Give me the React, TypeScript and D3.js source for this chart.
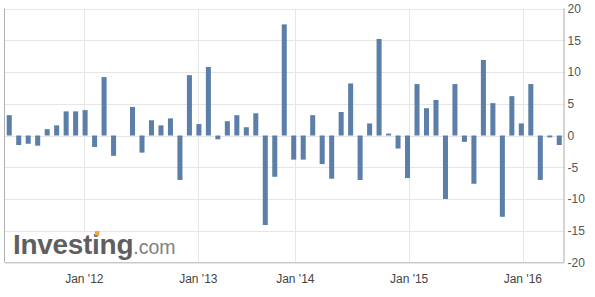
import React from "react";
import * as d3 from "d3";

const values: number[] = [
  3.2, -1.5, -1.3, -1.6, 1.0, 1.6, 3.8, 3.8, 4.0, -1.8,
  9.2, -3.2, 0.0, 4.5, -2.7, 2.4, 1.6, 2.7, -7.0, 9.5,
  1.8, 10.8, -0.6, 2.25, 3.2, 1.3, 3.5, -14.1, -6.5, 17.5,
  -3.8, -3.8, 3.2, -4.5, -6.8, 3.7, 8.2, -7.0, 1.9, 15.2,
  0.3, -2.05, -6.7, 8.1, 4.3, 5.6, -10.0, 8.1, -1.0, -7.6,
  11.9, 5.1, -12.8, 6.2, 1.9, 8.1, -7.0, -0.3, -1.5,
];

const xTickLabels: string[] = ["Jan '12", "Jan '13", "Jan '14", "Jan '15", "Jan '16"];
const xTickIndex: number[] = [7.92, 19.94, 30.17, 42.17, 54.16];
const yTicks: number[] = [20, 15, 10, 5, 0, -5, -10, -15, -20];

const W = 595;
const H = 297;
const left = 4.5;
const right = 564;
const top = 8.5;
const bottom = 262.5;

export default function App() {
  const x = d3
    .scaleBand<number>()
    .domain(values.map((_, i) => i))
    .range([left, right])
    .paddingInner(0.47)
    .paddingOuter(0.235);
  const step = x.step();
  const center = (i: number) => left + step * (i + 0.5);
  const y = d3.scaleLinear().domain([-20, 20]).range([bottom, top]);
  const font = "'Liberation Sans', Arial, sans-serif";

  return (
    <svg
      width={W}
      height={H}
      style={{ position: "absolute", left: 0, top: 0, background: "#fff" }}
    >
      {/* horizontal gridlines */}
      {yTicks.map((t) => (
        <line
          key={"hg" + t}
          x1={left}
          x2={right}
          y1={Math.round(y(t)) + 0.5}
          y2={Math.round(y(t)) + 0.5}
          stroke="#e6e6e6"
          strokeWidth={1}
        />
      ))}
      {/* vertical gridlines */}
      {xTickIndex.map((t, i) => (
        <line
          key={"vg" + i}
          x1={Math.round(center(t)) + 0.5}
          x2={Math.round(center(t)) + 0.5}
          y1={top}
          y2={bottom}
          stroke="#e6e6e6"
          strokeWidth={1}
        />
      ))}
      {/* bars */}
      {values.map((v, i) => (
        <rect
          key={"b" + i}
          x={x(i)}
          width={x.bandwidth()}
          y={y(Math.max(0, v))}
          height={Math.abs(y(v) - y(0))}
          fill="#5b7fa9"
        />
      ))}
      {/* watermark */}
      <rect x={left + 1} y={232} width={185} height={bottom - 232 - 0.5} fill="#fff" />
      <text
        x={13}
        y={253.5}
        fontFamily={font}
        fontWeight="bold"
        fontSize={28}
        letterSpacing={-0.3}
        fill="#5f5f5f"
      >
        Investing
        <tspan fontWeight="normal" fontSize={19.5} fill="#808080" letterSpacing={0}>
          .com
        </tspan>
      </text>
      <rect x={95} y={231} width={4.5} height={4.5} fill="#f2a83a" />
      {/* axes lines */}
      <line x1={left} x2={left} y1={top} y2={bottom} stroke="#b0b0b0" />
      <line x1={right} x2={right} y1={top} y2={bottom} stroke="#a8a8a8" />
      <line x1={left} x2={right} y1={bottom} y2={bottom} stroke="#c8c8c8" />
      {/* y labels */}
      {yTicks.map((t) => (
        <text
          key={"yl" + t}
          x={567.5}
          y={y(t)}
          dy="0.36em"
          fontFamily={font}
          fontSize={12}
          fill="#555"
        >
          {t}
        </text>
      ))}
      {/* x labels */}
      {xTickLabels.map((l, i) => (
        <text
          key={"xl" + i}
          x={center(xTickIndex[i])}
          y={283}
          textAnchor="middle"
          fontFamily={font}
          fontSize={12}
          fill="#444"
        >
          {l}
        </text>
      ))}
    </svg>
  );
}
